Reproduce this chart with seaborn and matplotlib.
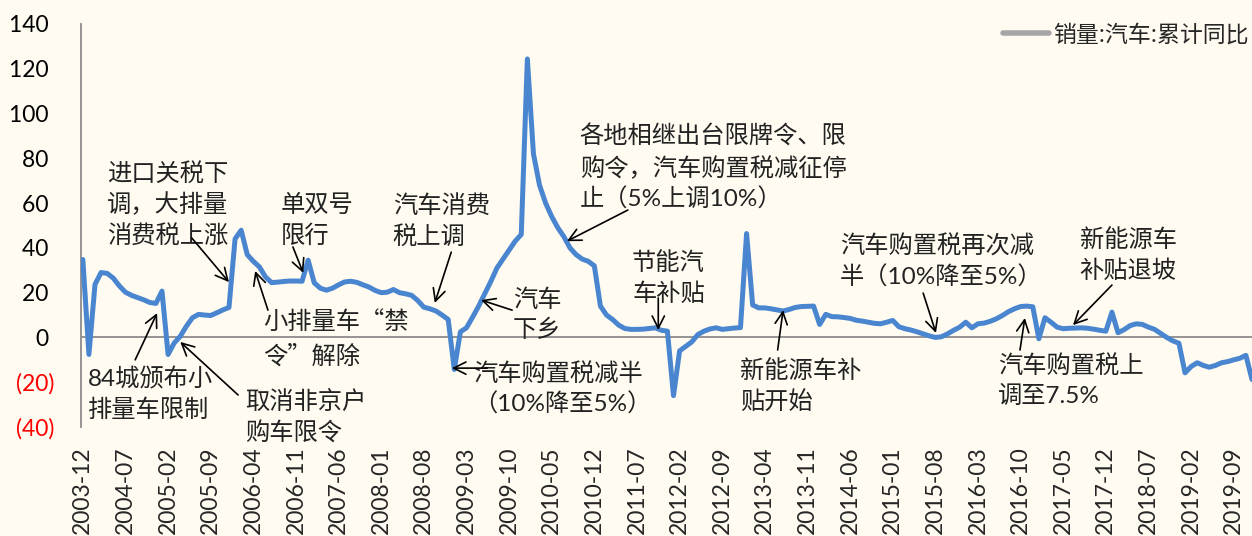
import matplotlib
matplotlib.use("Agg")
import matplotlib.pyplot as plt
from matplotlib.lines import Line2D
from matplotlib.ticker import FuncFormatter
import seaborn as sns
import pandas as pd
import numpy as np

# monthly categories, 2003-12 .. 2019-12
months = pd.date_range("2003-12-01", periods=193, freq="MS").strftime("%Y-%m").tolist()

# 销量:汽车:累计同比 (%)
sales_yoy = [
    34.8, -7.6, 23.7, 29.0, 28.6, 26.5, 23.0, 20.2, 18.8, 17.8,
    16.8, 15.6, 15.2, 20.7, -7.6, -2.5, 0.5, 5.0, 8.8, 10.3,
    10.0, 9.8, 11.0, 12.3, 13.4, 44.0, 47.9, 37.0, 34.0, 31.5,
    27.0, 24.5, 24.7, 25.0, 25.2, 25.2, 25.1, 34.5, 24.4, 22.0,
    21.1, 22.0, 23.5, 24.8, 25.1, 24.6, 23.5, 22.5, 21.0, 20.0,
    20.2, 21.4, 20.0, 19.5, 18.8, 16.5, 13.5, 12.8, 11.8, 10.0,
    8.0, -14.3, 2.5, 4.3, 9.0, 14.0, 19.5, 25.0, 31.0, 35.0,
    39.0, 43.0, 46.0, 124.4, 82.0, 68.0, 60.0, 54.0, 49.0, 45.0,
    40.0, 37.0, 35.0, 34.0, 32.0, 14.0, 10.0, 8.0, 5.5, 4.0,
    3.6, 3.6, 3.7, 4.0, 4.3, 3.2, 2.8, -26.0, -6.0, -4.0,
    -2.0, 1.3, 2.8, 3.8, 4.3, 3.6, 3.9, 4.2, 4.4, 46.4,
    14.5, 13.2, 13.2, 12.8, 12.3, 11.8, 12.5, 13.4, 13.8, 13.9,
    14.0, 5.8, 10.3, 9.3, 9.2, 8.9, 8.5, 7.7, 7.3, 6.8,
    6.3, 6.1, 6.8, 7.6, 4.8, 3.9, 3.3, 2.5, 1.6, 0.7,
    0.0, 0.3, 1.6, 3.2, 4.6, 6.8, 4.3, 6.1, 6.4, 7.2,
    8.3, 9.8, 11.5, 12.8, 13.8, 14.0, 13.7, -0.6, 8.8, 6.8,
    4.6, 3.9, 4.1, 4.2, 4.3, 4.1, 3.7, 3.2, 2.8, 11.3,
    2.1, 3.5, 5.3, 6.1, 5.8, 4.6, 3.6, 1.8, 0.0, -1.5,
    -2.6, -15.8, -13.0, -11.3, -12.5, -13.3, -12.5, -11.3, -10.8, -10.0,
    -9.3, -8.0, -18.8,
]

y_ticks = [-40, -20, 0, 20, 40, 60, 80, 100, 120, 140]
legend_label = "销量:汽车:累计同比"

# (text, text top-left, arrow tail, arrow tip) in data coords
events = [
    ("进口关税下\n调，大排量\n消费税上涨", (4.0, 78.5), (17.9, 44.4), (24.0, 24.7)),
    ("单双号\n限行", (32.5, 64), (34.5, 40.4), (36.2, 28.8)),
    ("汽车消费\n税上调", (50.9, 64), (60.5, 38.1), (57.8, 15.4)),
    ("各地相继出台限牌令、限\n购令，汽车购置税减征停\n止（5%上调10%）", (81.6, 95), (89.5, 56.9), (79.5, 43.0)),
    ("节能汽\n车补贴", (90.2, 38.5), (94.5, 17.6), (94.5, 3.3)),
    ("汽车\n下乡", (70.6, 22), (70.5, 12.2), (65.4, 16.7)),
    ("汽车购置税减半\n（10%降至5%）", (64.1, -10.8), (66.4, -13.7), (60.6, -13.7)),
    ("小排量车“禁\n令”解除", (29.6, 12.8), (30.4, 12.2), (28.3, 29.7)),
    ("84城颁布小\n排量车限制", (0.85, -13.2), (8.6, -10.0), (12.2, 10.9)),
    ("取消非京户\n购车限令", (26.6, -23.5), (25.5, -25.7), (16.0, -2.0)),
    ("新能源车补\n贴开始", (107.9, -9.6), (114.1, -5.6), (115.0, 12.2)),
    ("汽车购置税再次减\n半（10%降至5%）", (124.3, 46.2), (138.0, 19.8), (140.1, 2.0)),
    ("新能源车\n补贴退坡", (163.7, 48.8), (169.0, 23.4), (162.6, 5.5)),
    ("汽车购置税上\n调至7.5%", (150.3, -7.3), (153.9, -5.6), (154.7, 8.7)),
]

df = pd.DataFrame({"idx": np.arange(len(sales_yoy)), "month": months, "yoy": sales_yoy})

sns.set_style("white")
plt.rcParams["font.family"] = ["Lato", "Noto Sans CJK SC", "DejaVu Sans"]

bg = "#FFFBF1"
fig = plt.figure(figsize=(12.52, 5.36), dpi=100, facecolor=bg)
ax = fig.add_axes([81 / 1252, 1 - 427 / 536, 1 - 81 / 1252, 403 / 536])
ax.set_facecolor(bg)

sns.lineplot(data=df, x="idx", y="yoy", ax=ax, color="#4A86D0", linewidth=3.6,
             legend=False, zorder=3)

ax.axhline(0, color="#8C8C8C", linewidth=1.3, zorder=2)

ax.set_xlim(-0.3, 192)
ax.set_ylim(-40, 140)

for s in ["top", "right", "bottom"]:
    ax.spines[s].set_visible(False)
ax.spines["left"].set_color("#8C8C8C")
ax.spines["left"].set_linewidth(1.3)

ax.set_yticks(y_ticks)
ax.yaxis.set_major_formatter(FuncFormatter(lambda v, p: f"({abs(v):.0f})" if v < 0 else f"{v:.0f} "))
ax.tick_params(axis="y", length=0, pad=19, labelsize=16.5)
for lab, v in zip(ax.get_yticklabels(), y_ticks):
    lab.set_color("red" if v < 0 else "black")

xt = list(range(0, len(months), 7))
ax.set_xticks(xt)
ax.set_xticklabels([months[i] for i in xt], rotation=90, va="top", ha="center")
ax.tick_params(axis="x", length=0, pad=14, labelsize=16.5)

ax.set_xlabel("")
ax.set_ylabel("")
ax.grid(False)

for text, (tx, ty), tail, tip in events:
    fam = ["Lato", "Noto Sans CJK SC", "DejaVu Sans"]
    if "“" in text:
        fam = ["Noto Sans CJK SC", "DejaVu Sans"]
    ax.text(tx, ty, text, fontsize=17.5, color="#222222", ha="left", va="top",
            linespacing=1.42, family=fam, zorder=4)
    ax.annotate("", xy=tip, xytext=tail,
                arrowprops=dict(arrowstyle="->", color="black", lw=1.2,
                                mutation_scale=22, shrinkA=0, shrinkB=0),
                zorder=4)

handle = Line2D([0], [0], color="#A6A6A6", linewidth=4)
fig.legend([handle], [legend_label], loc="center right",
           bbox_to_anchor=(1249 / 1252, 1 - 35 / 536), frameon=False,
           handlelength=2.0, handletextpad=0.2,
           borderpad=0, borderaxespad=0,
           prop={"family": ["Noto Sans CJK SC", "DejaVu Sans"], "size": 16.5})

fig.savefig("out.png", dpi=100, facecolor=bg)
